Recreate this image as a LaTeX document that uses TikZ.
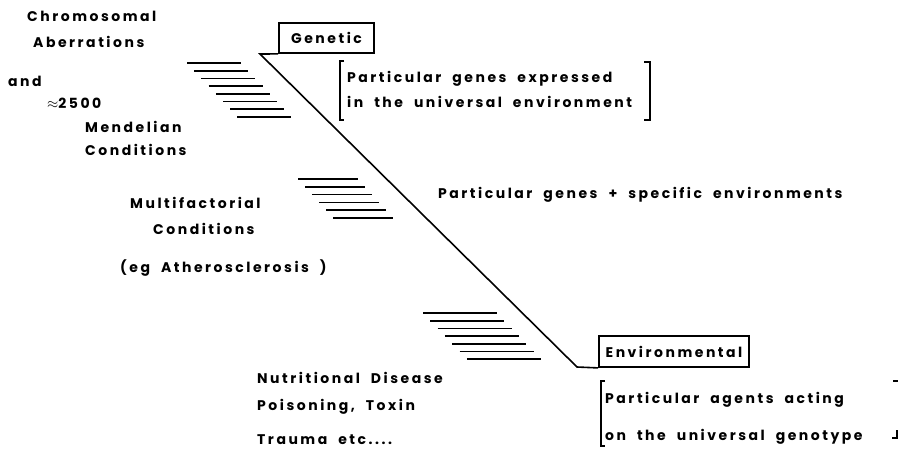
\documentclass[tikz,border=0pt]{standalone}
\usepackage{fontspec}
\setmainfont{Poppins}[LetterSpace=18,WordSpace=2]
\usepackage{tikz}
\usetikzlibrary{positioning}

\tikzset{
  lbl/.style={anchor=west,inner sep=0pt,font=\fontsize{14}{16}\selectfont\bfseries},
  kind/.style={draw,line width=1.8pt,inner sep=0pt,font=\fontsize{14}{16}\selectfont\bfseries},
  hatch/.style={line width=1.6pt},
  brack/.style={line width=1.5pt}
}

\begin{document}
\begin{tikzpicture}[x=1pt,y=-1pt]
\useasboundingbox (0,0) rectangle (900,448);
% left hand labels
\node[lbl] (chromo) at (27,16) {Chromosomal};
\node[lbl] (aberr) at (33,42) {Aberrations};
\node[lbl] (and) at (8,81) {and};
\node[lbl] (mend2500) at (47,103) {$\approx$2500};
\node[lbl] (mendel) at (85,127) {Mendelian};
\node[lbl] (condA) at (85,150) {Conditions};
\node[lbl] (multi) at (130,203) {Multifactorial};
\node[lbl] (condB) at (153,229) {Conditions};
\node[lbl] (egath) at (120,268) {(eg Atherosclerosis )};
\node[lbl] (nutri) at (257,378) {Nutritional Disease};
\node[lbl] (poison) at (257,407) {Poisoning, Toxin};
\node[lbl] (trauma) at (257,440) {Trauma etc....};
% the two ends
\node[kind,minimum width=95pt,minimum height=30pt] (gen) at (326.5,38) {Genetic};
\node[kind,minimum width=150pt,minimum height=31pt] (env) at (674,351.5) {Environmental};
\coordinate (gtop) at (260,54);
\coordinate (ebot) at (577,367);
\draw[line width=1.6pt] (gen.south west) -- (gtop) -- (ebot) -- (env.south west);
% right hand labels
\node[lbl] (genexp) at (347,79) {Particular genes expressed};
\node[lbl] (genenv) at (347,102) {in the universal environment};
\node[lbl] (mixed) at (438,195) {Particular genes + specific environments};
\node[lbl] (agents) at (605,400) {Particular agents acting};
\node[lbl] (genotype) at (605,437) {on the universal genotype};
% brackets
\draw[brack] (344,61) -- (340,61) -- (340,120) -- (344,120);
\draw[brack] (644,62) -- (650,62) -- (650,120) -- (644,120);
\draw[brack] (605,381) -- (601,381) -- (601,446) -- (605,446);
\draw[brack] (893,381) -- (898,381);
\draw[brack] (897,430) -- (897,438) -- (892,438);
% hatching
\foreach \i in {0,...,7}
  \draw[hatch] (187+7.2*\i,63+7.7*\i) -- ++(54,0);
\foreach \i in {0,...,5}
  \draw[hatch] (298+7*\i,179+7.8*\i) -- ++(60,0);
\foreach \i in {0,...,6}
  \draw[hatch] (423+7.3*\i,313+7.7*\i) -- ++(74,0);
\end{tikzpicture}
\end{document}
